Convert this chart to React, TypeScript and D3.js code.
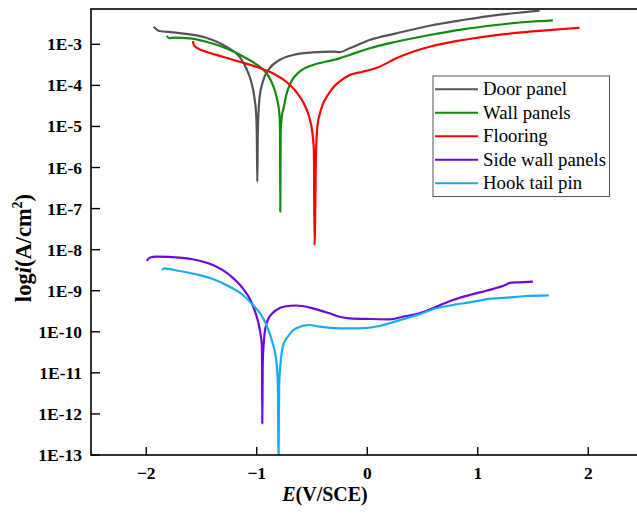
import React from "react";
import * as d3 from "d3";

// ---- Data (E in V/SCE, log10 of current density in A/cm2) ----
const doorE = [-1.934, -1.88, -1.762, -1.457, -1.276, -1.156, -1.095, -1.05, -1.02, -1.005, -0.999, -0.995, -0.991, -0.985, -0.975, -0.945, -0.884, -0.794, -0.673, -0.492, -0.3, -0.251, -0.16, 0.021, 0.262, 0.564, 0.865, 1.167, 1.469, 1.559];
const doorLogI = [-2.571, -2.676, -2.708, -2.839, -3.058, -3.302, -3.584, -3.911, -4.315, -4.721, -5.3, -6.346, -5.3, -4.721, -4.308, -3.911, -3.584, -3.382, -3.261, -3.195, -3.18, -3.192, -3.097, -2.895, -2.732, -2.547, -2.408, -2.287, -2.206, -2.182];

const wallE = [-1.814, -1.794, -1.744, -1.608, -1.457, -1.276, -1.095, -0.975, -0.9, -0.854, -0.818, -0.794, -0.79, -0.789, -0.787, -0.784, -0.783, -0.771, -0.757, -0.733, -0.688, -0.613, -0.492, -0.371, -0.251, -0.16, 0.021, 0.262, 0.564, 0.865, 1.167, 1.469, 1.68];
const wallLogI = [-2.791, -2.851, -2.839, -2.854, -2.937, -3.097, -3.341, -3.545, -3.748, -3.991, -4.315, -4.721, -5.038, -5.2, -7.076, -5.3, -5.087, -4.721, -4.558, -4.234, -3.911, -3.667, -3.504, -3.419, -3.341, -3.261, -3.097, -2.937, -2.774, -2.635, -2.53, -2.45, -2.416];

const floorE = [-1.578, -1.569, -1.533, -1.457, -1.307, -1.156, -1.005, -0.854, -0.733, -0.643, -0.567, -0.522, -0.498, -0.483, -0.477, -0.463, -0.45, -0.432, -0.405, -0.357, -0.296, -0.251, -0.16, -0.04, 0.021, 0.111, 0.262, 0.413, 0.564, 0.865, 1.167, 1.469, 1.77, 1.921];
const floorLogI = [-2.92, -3.017, -3.097, -3.18, -3.302, -3.424, -3.545, -3.706, -3.911, -4.154, -4.478, -4.802, -5.128, -5.574, -7.887, -5.574, -4.965, -4.721, -4.478, -4.234, -4.015, -3.911, -3.748, -3.667, -3.626, -3.545, -3.341, -3.18, -3.058, -2.895, -2.774, -2.693, -2.627, -2.596];

const sideE = [-1.995, -1.97, -1.909, -1.699, -1.548, -1.397, -1.246, -1.126, -1.05, -1.005, -0.975, -0.954, -0.952, -0.95, -0.946, -0.938, -0.929, -0.917, -0.9, -0.866, -0.824, -0.748, -0.643, -0.492, -0.341, -0.251, -0.16, 0.021, 0.202, 0.322, 0.473, 0.624, 0.775, 0.926, 1.077, 1.258, 1.288, 1.378, 1.499];
const sideLogI = [-8.276, -8.196, -8.172, -8.196, -8.252, -8.374, -8.617, -8.941, -9.267, -9.591, -9.915, -10.322, -10.809, -12.228, -10.809, -10.322, -10.037, -9.86, -9.713, -9.57, -9.47, -9.384, -9.36, -9.428, -9.55, -9.633, -9.672, -9.689, -9.696, -9.633, -9.55, -9.389, -9.226, -9.104, -9.0, -8.85, -8.81, -8.795, -8.78];

const hookE = [-1.859, -1.835, -1.699, -1.548, -1.397, -1.246, -1.126, -1.035, -0.959, -0.9, -0.86, -0.824, -0.809, -0.803, -0.797, -0.787, -0.78, -0.764, -0.744, -0.719, -0.685, -0.643, -0.522, -0.432, -0.251, -0.07, 0.111, 0.202, 0.322, 0.473, 0.624, 0.775, 0.926, 1.077, 1.258, 1.439, 1.643];
const hookLogI = [-8.496, -8.454, -8.52, -8.6, -8.715, -8.902, -9.104, -9.348, -9.591, -9.915, -10.241, -10.687, -11.254, -13.3, -11.254, -10.85, -10.63, -10.363, -10.22, -10.12, -10.0, -9.915, -9.835, -9.876, -9.915, -9.915, -9.859, -9.793, -9.696, -9.574, -9.428, -9.348, -9.282, -9.209, -9.17, -9.129, -9.112];

const seriesNames = ["Door panel", "Wall panels", "Flooring", "Side wall panels", "Hook tail pin"];
const seriesColors = ["#545454", "#118a11", "#ff0000", "#6c08dc", "#16acf4"];
const seriesE = [doorE, wallE, floorE, sideE, hookE];
const seriesLogI = [doorLogI, wallLogI, floorLogI, sideLogI, hookLogI];

const xTicks = [-2, -1, 0, 1, 2];
const yTickExps = [-3, -4, -5, -6, -7, -8, -9, -10, -11, -12, -13];

export default function App() {
  const W = 637;
  const H = 519;
  const left = 91;
  const top = 9;
  const bottom = 455;
  const x = d3.scaleLinear().domain([-2.5, 2.5]).range([left, left + 5 * 110.5]);
  const y = d3.scaleLog().domain([1e-13, Math.pow(10, -2.14)]).range([bottom, top]);
  const right = x(2.5);

  const line = d3
    .line<[number, number]>()
    .x((d) => x(d[0]))
    .y((d) => y(Math.pow(10, d[1])))
    .curve(d3.curveMonotoneX);

  const serif = "'Liberation Serif', 'Times New Roman', serif";
  const legX = 433;
  const legY = 76;
  const rowH = 23.5;

  return (
    <svg
      width={W}
      height={H}
      style={{ position: "absolute", left: 0, top: 0, background: "#fff" }}
      fontFamily={serif}
    >
      <defs>
        <clipPath id="plotClip">
          <rect x={left} y={top} width={right - left} height={bottom - top} />
        </clipPath>
      </defs>
      <rect x={0} y={0} width={W} height={H} fill="#fff" />

      {/* curves */}
      <g clipPath="url(#plotClip)">
        {seriesE.map((es, si) => {
          const pts: [number, number][] = es.map((e, k) => [e, seriesLogI[si][k]]);
          return (
            <path
              key={si}
              d={line(pts) || ""}
              fill="none"
              stroke={seriesColors[si]}
              strokeWidth={2.2}
              strokeLinejoin="round"
            />
          );
        })}
      </g>

      {/* frame */}
      <rect x={left} y={top} width={right - left} height={bottom - top} fill="none" stroke="#000" strokeWidth={1.6} />

      {/* x ticks */}
      {xTicks.map((t) => (
        <g key={t}>
          <line x1={x(t)} x2={x(t)} y1={bottom} y2={bottom - 8} stroke="#000" strokeWidth={1.4} />
          <text x={x(t)} y={479} textAnchor="middle" fontWeight="bold" fontSize={17.5}>
            {t < 0 ? "\u2212" + Math.abs(t) : String(t)}
          </text>
        </g>
      ))}

      {/* y ticks */}
      {yTickExps.map((n) => {
        const yy = y(Math.pow(10, n));
        return (
          <g key={n}>
            <line x1={left} x2={left + 9} y1={yy} y2={yy} stroke="#000" strokeWidth={1.4} />
            <text x={82} y={yy + 6} textAnchor="end" fontWeight="bold" fontSize={17.5}>
              {"1E" + n}
            </text>
          </g>
        );
      })}

      {/* axis titles */}
      <text x={325} y={501} textAnchor="middle" fontWeight="bold" fontSize={20}>
        <tspan fontStyle="italic">E</tspan>(V/SCE)
      </text>
      <text
        transform="translate(31,248) rotate(-90)"
        textAnchor="middle"
        fontWeight="bold"
        fontSize={22.5}
      >
        log<tspan fontStyle="italic">i</tspan>(A/cm
        <tspan fontSize={14} dy={-9}>2</tspan>
        <tspan dy={9}>)</tspan>
      </text>

      {/* legend */}
      <rect x={legX} y={legY} width={176.5} height={120.5} fill="#fff" stroke="#555" strokeWidth={1} />
      {seriesNames.map((name, i) => {
        const yy = legY + 13.3 + i * rowH;
        return (
          <g key={name}>
            <line x1={legX + 2} x2={legX + 45} y1={yy} y2={yy} stroke={seriesColors[i]} strokeWidth={2} />
            <text x={legX + 50} y={yy + 6} fontSize={18.8}>
              {name}
            </text>
          </g>
        );
      })}
    </svg>
  );
}
